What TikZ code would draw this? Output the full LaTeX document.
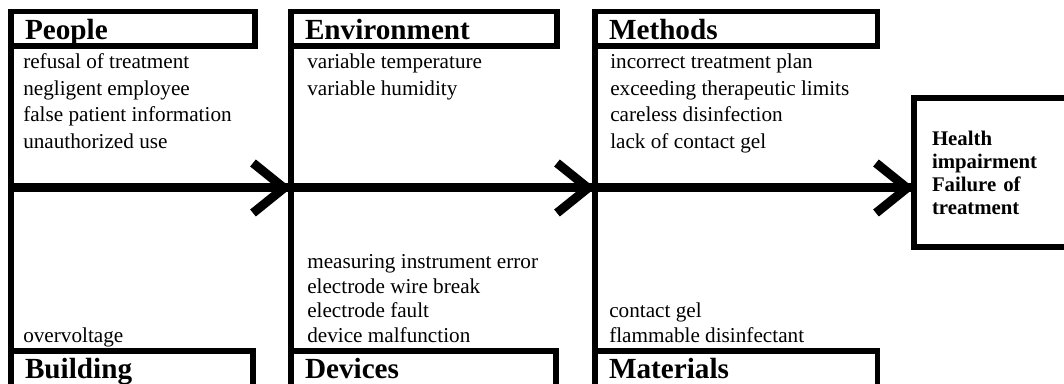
\documentclass[tikz,border=0pt]{standalone}
\usepackage{fontspec}
\setmainfont{Liberation Serif}
\usetikzlibrary{calc}

\begin{document}
\begin{tikzpicture}[x=0.75pt, y=-0.75pt,
  head box/.style={draw, line width=4pt, outer sep=0pt, anchor=north west,
    minimum height=25.9pt, inner xsep=10.5pt, inner ysep=0pt, align=left,
    text height=15.4pt, text depth=0pt,
    font=\fontsize{21.9}{26}\selectfont\bfseries},
  foot box/.style={head box, minimum height=28.5pt, text height=13.1pt},
  cause/.style={anchor=base west, inner sep=0pt,
    font=\fontsize{15.9}{19}\selectfont},
  effect/.style={draw, line width=4pt, outer sep=0pt, anchor=west,
    minimum height=111.75pt, inner xsep=13.5pt, text width=101pt, align=left,
    font=\fontsize{15.6}{17.25}\selectfont\bfseries},
  rib/.style={line width=4pt},
  spine/.style={line width=6.75pt},
  chevron/.style={line width=6.75pt, line join=miter}]

\path [use as bounding box, clip] (0,0) rectangle (1064,384);

\foreach \n/\t/\x/\w in {people/People/11/244, environment/Environment/291/266, methods/Methods/595/282.5} {
  \pgfmathsetmacro\tw{(\w-28)*0.75}
  \node [head box, text width=\tw pt] (\n) at (\x,11.5) {\t};
}

\foreach \n/\t/\x/\w in {building/Building/11/242, devices/Devices/291/265, materials/Materials/595/282.5} {
  \pgfmathsetmacro\tw{(\w-28)*0.75}
  \node [foot box, text width=\tw pt] (\n) at (\x,351) {\t};
}

\foreach \t [count=\i] in {refusal of treatment, negligent employee, false patient information, unauthorized use}
  \node [cause] (people-\i) at (23,42.5+26.5*\i) {\t};

\foreach \t [count=\i] in {variable temperature, variable humidity}
  \node [cause] (environment-\i) at (307,42.5+26.5*\i) {\t};

\foreach \t [count=\i] in {incorrect treatment plan, exceeding therapeutic limits, careless disinfection, lack of contact gel}
  \node [cause] (methods-\i) at (610,42.5+26.5*\i) {\t};

\foreach \t [count=\i] in {overvoltage}
  \node [cause] (building-\i) at (23,317.8+24.7*\i) {\t};

\foreach \t [count=\i] in {measuring instrument error, electrode wire break, electrode fault, device malfunction}
  \node [cause] (devices-\i) at (307,243.7+24.7*\i) {\t};

\foreach \t [count=\i] in {contact gel, flammable disinfectant}
  \node [cause] (materials-\i) at (609,293.1+24.7*\i) {\t};

\node [effect] (result) at (914,172.5) {Health\\ impairment\\ Failure of\\ treatment};

\foreach \a/\b in {people/building, environment/devices, methods/materials}
  \draw [rib] (\a.north west) -- (\b.south west);

\coordinate (tail) at (11,188);
\draw [spine] (tail) -- (tail -| result.west);

\foreach \n in {environment, methods, result}
  \draw [chevron] ($(tail -| \n.west)+(-38,-25)$) -- ($(tail -| \n.west)+(-7,0)$)
    -- ($(tail -| \n.west)+(-38,25)$);
\end{tikzpicture}
\end{document}
